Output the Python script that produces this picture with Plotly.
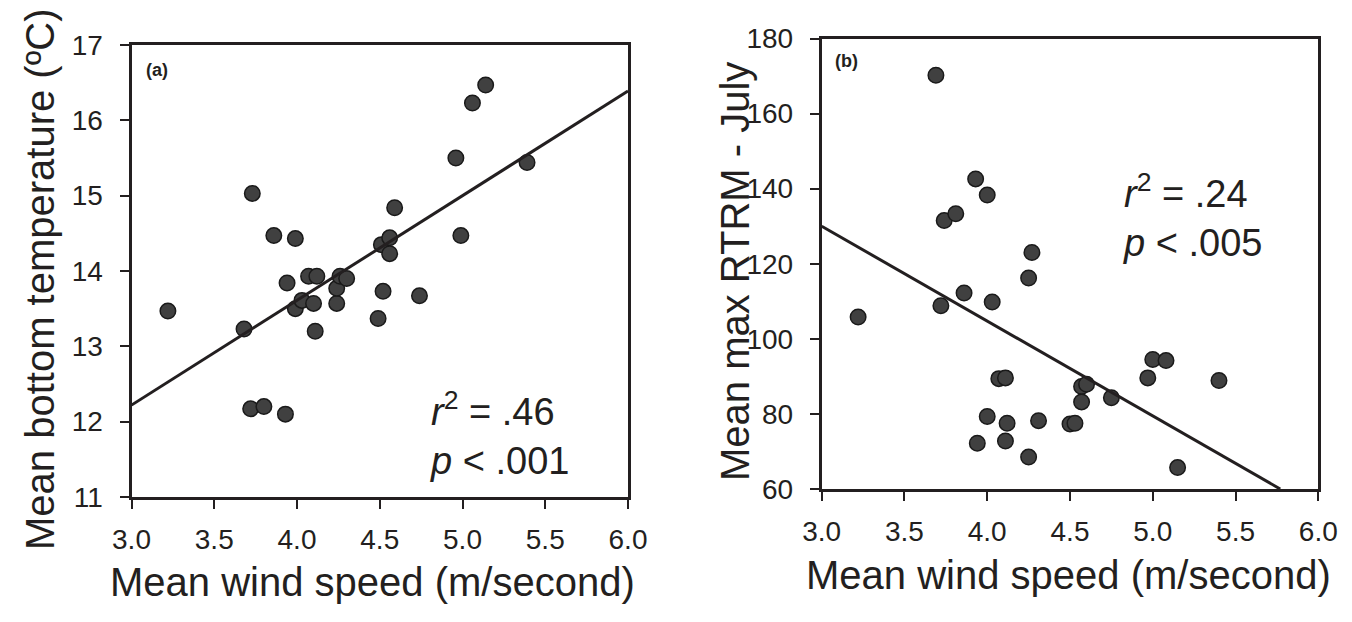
import plotly.graph_objects as go

# ---------------- data ----------------
# Panel (a): mean wind speed vs mean bottom temperature
wind_a = [3.22, 3.68, 3.72, 3.73, 3.80, 3.86, 3.93, 3.94, 3.99, 3.99, 4.03,
          4.07, 4.10, 4.11, 4.12, 4.24, 4.24, 4.26, 4.30, 4.49, 4.51, 4.52,
          4.56, 4.56, 4.59, 4.74, 4.96, 4.99, 5.06, 5.14, 5.39]
temp_a = [13.47, 13.23, 12.17, 15.03, 12.20, 14.47, 12.10, 13.84, 13.50, 14.43, 13.61,
          13.93, 13.57, 13.20, 13.93, 13.57, 13.77, 13.93, 13.90, 13.37, 14.35, 13.73,
          14.44, 14.23, 14.84, 13.67, 15.50, 14.47, 16.23, 16.47, 15.44]
fit_a_x = [3.0, 6.0]
fit_a_y = [12.22, 16.39]

# Panel (b): mean wind speed vs mean max RTRM - July
wind_b = [3.22, 3.69, 3.72, 3.74, 3.81, 3.86, 3.93, 3.94, 4.00, 4.00, 4.03,
          4.07, 4.11, 4.11, 4.12, 4.25, 4.25, 4.27, 4.31, 4.50, 4.53, 4.57,
          4.57, 4.60, 4.75, 4.97, 5.00, 5.08, 5.15, 5.40]
rtrm_b = [105.8, 170.2, 108.8, 131.5, 133.3, 112.2, 142.6, 72.2, 138.3, 79.3, 109.8,
          89.4, 89.6, 72.8, 77.5, 116.2, 68.5, 123.0, 78.2, 77.3, 77.5, 87.3,
          83.2, 87.9, 84.3, 89.6, 94.5, 94.2, 65.7, 88.9]
fit_b_x = [3.0, 5.77]
fit_b_y = [130.0, 60.0]

x_ticks = [3.0, 3.5, 4.0, 4.5, 5.0, 5.5, 6.0]
x_ticklabels = ["3.0", "3.5", "4.0", "4.5", "5.0", "5.5", "6.0"]
y_ticks_a = [11, 12, 13, 14, 15, 16, 17]
y_ticks_b = [60, 80, 100, 120, 140, 160, 180]

x_title = "Mean wind speed (m/second)"
y_title_a = "Mean bottom temperature (ºC)"
y_title_b = "Mean max RTRM - July"
stats_a = "<i>r</i><sup>2</sup> = .46<br><i>p</i> < .001"
stats_b = "<i>r</i><sup>2</sup> = .24<br><i>p</i> < .005"

# ---------------- style ----------------
W, H = 1352, 622
FONT = "Liberation Sans, Arial, Helvetica, sans-serif"
INK = "#231f20"
DOT = "#404040"

fig = go.Figure()

marker = dict(size=15.5, color=DOT, line=dict(color="#1a1a1a", width=1.5))

fig.add_trace(go.Scatter(x=wind_a, y=temp_a, mode="markers", marker=marker,
                         xaxis="x", yaxis="y", showlegend=False))
fig.add_trace(go.Scatter(x=fit_a_x, y=fit_a_y, mode="lines",
                         line=dict(color=INK, width=3),
                         xaxis="x", yaxis="y", showlegend=False))
fig.add_trace(go.Scatter(x=wind_b, y=rtrm_b, mode="markers", marker=marker,
                         xaxis="x2", yaxis="y2", showlegend=False))
fig.add_trace(go.Scatter(x=fit_b_x, y=fit_b_y, mode="lines",
                         line=dict(color=INK, width=3),
                         xaxis="x2", yaxis="y2", showlegend=False))

def px_x(p):
    return p / W

def px_y(p):
    return 1 - p / H

axis_common = dict(
    showline=True, linecolor=INK, linewidth=3, mirror=True,
    ticks="outside", ticklen=9, tickwidth=2, tickcolor=INK,
    showgrid=False, zeroline=False, automargin=False,
    tickfont=dict(family=FONT, size=28, color=INK),
)

fig.update_layout(
    width=W, height=H,
    margin=dict(l=0, r=0, t=0, b=0, autoexpand=False),
    paper_bgcolor="white", plot_bgcolor="white",
    font=dict(family=FONT, color=INK),
    xaxis=dict(domain=[px_x(131.5), px_x(628)], range=[3, 6],
               tickvals=x_ticks, ticktext=x_ticklabels, anchor="y",
               ticklabelstandoff=6, **axis_common),
    yaxis=dict(domain=[px_y(497), px_y(45)], range=[11, 17],
               tickvals=y_ticks_a, anchor="x",
               ticklabelstandoff=11, **axis_common),
    xaxis2=dict(domain=[px_x(821.7), px_x(1318.3)], range=[3, 6],
                tickvals=x_ticks, ticktext=x_ticklabels, anchor="y2",
                ticklabelstandoff=6, **axis_common),
    yaxis2=dict(domain=[px_y(489), px_y(38.5)], range=[60, 180],
                tickvals=y_ticks_b, anchor="x2",
                ticklabelstandoff=11, **axis_common),
)

annotations = [
    # panel labels
    dict(text="<b>(a)</b>", x=px_x(144), y=px_y(70), xanchor="left", yanchor="middle",
         font=dict(size=18, family=FONT, color=INK)),
    dict(text="<b>(b)</b>", x=px_x(833), y=px_y(61), xanchor="left", yanchor="middle",
         font=dict(size=18, family=FONT, color=INK)),
    # stats
    dict(text=stats_a, x=px_x(428), y=px_y(433), xanchor="left", yanchor="middle",
         align="left", font=dict(size=38, family=FONT, color=INK)),
    dict(text=stats_b, x=px_x(1121), y=px_y(215), xanchor="left", yanchor="middle",
         align="left", font=dict(size=38, family=FONT, color=INK)),
    # axis titles
    dict(text=x_title, x=px_x(372), y=px_y(582), xanchor="center", yanchor="middle",
         font=dict(size=40, family=FONT, color=INK)),
    dict(text=x_title, x=px_x(1068), y=px_y(575), xanchor="center", yanchor="middle",
         font=dict(size=40, family=FONT, color=INK)),
    dict(text=y_title_a, x=px_x(40), y=px_y(280), xanchor="center", yanchor="middle",
         textangle=-90, font=dict(size=40, family=FONT, color=INK)),
    dict(text=y_title_b, x=px_x(735), y=px_y(272), xanchor="center", yanchor="middle",
         textangle=-90, font=dict(size=40, family=FONT, color=INK)),
]
for a in annotations:
    a.update(xref="paper", yref="paper", showarrow=False)
fig.update_layout(annotations=annotations)

fig.write_html("out.html")
